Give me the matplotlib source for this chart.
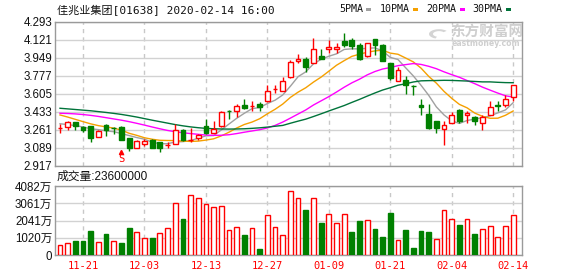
import matplotlib
matplotlib.use("Agg")
import matplotlib.pyplot as plt
from matplotlib.patches import Rectangle, Wedge
import numpy as np

# ---------------- data ----------------
dates = ["11-18", "11-19", "11-20", "11-21", "11-22", "11-25", "11-26", "11-27", "11-28", "11-29",
         "12-02", "12-03", "12-04", "12-05", "12-06", "12-09", "12-10", "12-11", "12-12", "12-13",
         "12-16", "12-17", "12-18", "12-19", "12-20", "12-23", "12-24", "12-27", "12-30", "12-31",
         "01-02", "01-03", "01-06", "01-07", "01-08", "01-09", "01-10", "01-13", "01-14", "01-15",
         "01-16", "01-17", "01-20", "01-21", "01-22", "01-23", "01-24", "01-29", "01-30", "01-31",
         "02-03", "02-04", "02-05", "02-06", "02-07", "02-10", "02-11", "02-12", "02-13", "02-14"]

opens = [3.272, 3.285, 3.336, 3.285, 3.292, 3.189, 3.304, 3.276, 3.285, 3.177,
         3.087, 3.125, 3.164, 3.139, 3.113, 3.125, 3.256, 3.158, 3.177, 3.292,
         3.225, 3.294, 3.441, 3.435, 3.498, 3.486, 3.505, 3.530, 3.645, 3.632,
         3.760, 3.913, 3.932, 3.899, 3.963, 4.033, 4.027, 4.110, 4.116, 4.065,
         3.963, 4.122, 4.065, 3.893, 3.727, 3.734, 3.680, 3.498, 3.409, 3.339,
         3.263, 3.326, 3.447, 3.397, 3.383, 3.326, 3.402, 3.495, 3.492, 3.568]
closes = [3.272, 3.330, 3.292, 3.253, 3.177, 3.246, 3.253, 3.272, 3.164, 3.081,
          3.151, 3.151, 3.087, 3.087, 3.113, 3.259, 3.156, 3.158, 3.209, 3.228,
          3.263, 3.428, 3.435, 3.486, 3.467, 3.486, 3.479, 3.626, 3.645, 3.721,
          3.906, 3.932, 3.855, 4.027, 3.938, 4.052, 4.046, 4.065, 4.059, 3.932,
          4.084, 4.065, 3.918, 3.753, 3.830, 3.683, 3.674, 3.473, 3.275, 3.275,
          3.301, 3.397, 3.345, 3.416, 3.339, 3.377, 3.479, 3.489, 3.555, 3.683]
highs = [3.311, 3.342, 3.336, 3.292, 3.292, 3.259, 3.311, 3.285, 3.298, 3.177,
         3.164, 3.170, 3.170, 3.145, 3.145, 3.311, 3.270, 3.280, 3.221, 3.362,
         3.339, 3.441, 3.447, 3.508, 3.552, 3.530, 3.524, 3.683, 3.683, 3.760,
         3.925, 3.982, 3.951, 4.135, 4.033, 4.116, 4.090, 4.180, 4.135, 4.090,
         4.090, 4.129, 4.078, 3.899, 3.855, 3.772, 3.689, 3.549, 3.505, 3.345,
         3.339, 3.428, 3.454, 3.441, 3.390, 3.402, 3.536, 3.530, 3.594, 3.689]
lows = [3.225, 3.259, 3.259, 3.234, 3.139, 3.189, 3.196, 3.221, 3.164, 3.056,
        3.087, 3.100, 3.081, 3.043, 3.081, 3.125, 3.150, 3.145, 3.164, 3.215,
        3.225, 3.282, 3.358, 3.383, 3.454, 3.441, 3.441, 3.524, 3.607, 3.626,
        3.753, 3.899, 3.810, 3.893, 3.932, 3.989, 3.989, 4.046, 4.033, 3.925,
        3.955, 3.976, 3.913, 3.734, 3.720, 3.600, 3.594, 3.402, 3.263, 3.225,
        3.116, 3.320, 3.320, 3.320, 3.307, 3.256, 3.397, 3.441, 3.479, 3.536]

ma5 = [3.316, 3.308, 3.298, 3.285, 3.268, 3.260, 3.248, 3.240, 3.222, 3.203,
       3.184, 3.168, 3.140, 3.125, 3.125, 3.142, 3.145, 3.155, 3.178, 3.200,
       3.203, 3.257, 3.313, 3.368, 3.416, 3.460, 3.471, 3.509, 3.541, 3.591,
       3.675, 3.766, 3.812, 3.888, 3.932, 3.961, 3.984, 4.026, 4.032, 4.031,
       4.037, 4.041, 4.012, 3.950, 3.930, 3.851, 3.773, 3.684, 3.588, 3.477,
       3.400, 3.344, 3.319, 3.347, 3.360, 3.375, 3.391, 3.420, 3.448, 3.517]
ma10 = [3.400, 3.380, 3.358, 3.336, 3.315, 3.298, 3.286, 3.274, 3.255, 3.225,
        3.205, 3.182, 3.168, 3.158, 3.156, 3.155, 3.150, 3.147, 3.150, 3.160,
        3.172, 3.200, 3.235, 3.275, 3.309, 3.332, 3.364, 3.411, 3.454, 3.504,
        3.568, 3.618, 3.660, 3.714, 3.762, 3.818, 3.875, 3.919, 3.960, 3.981,
        3.999, 4.012, 4.019, 3.991, 3.980, 3.944, 3.907, 3.848, 3.769, 3.704,
        3.625, 3.559, 3.501, 3.468, 3.418, 3.387, 3.368, 3.369, 3.397, 3.438]
ma20 = [3.416, 3.414, 3.410, 3.404, 3.396, 3.386, 3.374, 3.362, 3.350, 3.336,
        3.320, 3.303, 3.285, 3.268, 3.252, 3.240, 3.230, 3.222, 3.215, 3.208,
        3.205, 3.206, 3.211, 3.222, 3.235, 3.247, 3.259, 3.276, 3.300, 3.332,
        3.370, 3.409, 3.448, 3.495, 3.535, 3.575, 3.619, 3.665, 3.707, 3.742,
        3.783, 3.815, 3.839, 3.853, 3.871, 3.881, 3.891, 3.883, 3.865, 3.842,
        3.812, 3.785, 3.760, 3.729, 3.699, 3.666, 3.637, 3.609, 3.583, 3.571]
ma30 = [3.464, 3.458, 3.452, 3.446, 3.440, 3.432, 3.424, 3.415, 3.405, 3.393,
        3.380, 3.365, 3.350, 3.336, 3.322, 3.308, 3.296, 3.286, 3.278, 3.272,
        3.268, 3.266, 3.265, 3.266, 3.268, 3.272, 3.277, 3.284, 3.292, 3.300,
        3.321, 3.341, 3.360, 3.385, 3.411, 3.438, 3.464, 3.490, 3.520, 3.549,
        3.580, 3.610, 3.638, 3.660, 3.684, 3.698, 3.715, 3.726, 3.728, 3.729,
        3.731, 3.730, 3.727, 3.724, 3.720, 3.716, 3.716, 3.712, 3.709, 3.708]

# volume in 万 shares
volumes = [572, 690, 828, 828, 1420, 769, 1242, 828, 710, 1597,
           1361, 986, 1006, 1302, 1578, 3057, 2130, 3530, 3352, 2997,
           2820, 2879, 1459, 1637, 1183, 1578, 355, 2366, 1637, 1163,
           3786, 3352, 2662, 3352, 1893, 2426, 1893, 2426, 1361, 2011,
           2051, 1538, 1065, 2485, 887, 1479, 414, 1420, 1361, 947,
           2642, 2110, 1775, 2110, 1242, 1538, 1696, 1045, 1696, 2360]
vol_dir = ["R", "R", "G", "G", "G", "R", "G", "R", "G", "G",
           "R", "R", "G", "R", "R", "R", "G", "R", "R", "R",
           "R", "R", "R", "R", "G", "R", "G", "R", "R", "R",
           "R", "R", "G", "R", "G", "R", "R", "R", "G", "G",
           "R", "G", "G", "G", "R", "G", "G", "G", "G", "R",
           "R", "R", "G", "R", "G", "R", "R", "R", "R", "R"]

price_ticks = [4.293, 4.121, 3.949, 3.777, 3.605, 3.433, 3.261, 3.089, 2.917]
price_tick_labels = ["4.293", "4.121", "3.949", "3.777", "3.605", "3.433", "3.261", "3.089", "2.917"]
vol_ticks = [0, 1020.5, 2041, 3061.5, 4082]
vol_tick_labels = ["0", "1020万", "2041万", "3061万", "4082万"]
xtick_dates = ["11-21", "12-03", "12-13", "12-27", "01-09", "01-21", "02-04", "02-14"]

title = "佳兆业集团[01638] 2020-02-14 16:00"
vol_title = "成交量:23600000"
ma_names = ["5PMA", "10PMA", "20PMA", "30PMA"]
signal_index = 8

# ---------------- style ----------------
W, H = 578, 276
RED = "#ff0000"
GREEN = "#008000"
MA_COLORS = ["#a0a0a0", "#f5a000", "#ff00ff", "#00733a"]
GRID = "#d2d2d2"
SPINE = "#9a9a9a"
MONO = ["DejaVu Sans Mono", "Noto Sans CJK SC"]
SANS = ["Liberation Sans", "Noto Sans CJK SC"]


def fx(px):
    return px / W


def fy(py):
    return 1 - py / H


fig = plt.figure(figsize=(W / 100, H / 100), dpi=100)
fig.patch.set_facecolor("white")

left, right = 55, 522
ax = fig.add_axes([fx(left), fy(165.5), fx(right - left), (165.5 - 21.5) / H])
axv = fig.add_axes([fx(left), fy(255), fx(right - left), (255 - 186) / H])

x = np.arange(len(dates))
o = np.array(opens)
c = np.array(closes)
up = c >= o
xlim = (-0.65, 60.15)

# candles
wick_colors = [RED if u else GREEN for u in up]
ax.vlines(x, lows, highs, colors=wick_colors, lw=1, zorder=3)
body_bottom = np.minimum(o, c)
body_h = np.maximum(np.abs(c - o), 0.0008)
ax.bar(x, body_h, bottom=body_bottom, width=0.62,
       facecolor=["white" if u else GREEN for u in up],
       edgecolor=wick_colors, lw=1, zorder=4)

# moving averages
for vals, col in zip([ma5, ma10, ma20, ma30], MA_COLORS):
    ax.plot(x, vals, color=col, lw=1, zorder=2)

ax.set_xlim(*xlim)
ax.set_ylim(2.917, 4.293)
ax.set_yticks(price_ticks)
ax.set_yticklabels(price_tick_labels, family=SANS, fontsize=8.3, color="#111111")
xt = [dates.index(d) for d in xtick_dates]
ax.set_xticks(xt)
ax.set_xticklabels([])
ax.tick_params(length=0, pad=2)
ax.yaxis.grid(True, color=GRID, lw=1)
ax.xaxis.grid(True, color="#c8c8c8", lw=1, ls=(0, (3, 3)))
ax.set_axisbelow(True)
for s in ax.spines.values():
    s.set_color(SPINE)
    s.set_linewidth(1)

# signal marker (triangle above an "S")
ax.annotate("S", xy=(signal_index, 2.917), xycoords="data",
            xytext=(0, 1), textcoords="offset points",
            ha="center", va="bottom", color=RED, fontsize=7.5, family="DejaVu Sans Mono", zorder=6)
ax.plot([signal_index], [3.046], marker="^", color=RED, ms=3, zorder=6, lw=0)

# volume
vol_face = ["white" if d == "R" else GREEN for d in vol_dir]
vol_edge = [RED if d == "R" else GREEN for d in vol_dir]
axv.bar(x, volumes, width=0.62, facecolor=vol_face, edgecolor=vol_edge, lw=1, zorder=3)
axv.set_xlim(*xlim)
axv.set_ylim(0, 4082)
axv.set_yticks(vol_ticks)
axv.set_yticklabels(vol_tick_labels, family=SANS, fontsize=8.3, color="#111111")
axv.set_xticks(xt)
axv.set_xticklabels(xtick_dates, family="DejaVu Sans Mono", fontsize=7.5, color=RED)
axv.tick_params(length=0, pad=2)
axv.tick_params(axis="x", pad=4)
axv.yaxis.grid(True, color=GRID, lw=1)
axv.xaxis.grid(True, color="#c8c8c8", lw=1, ls=(0, (3, 3)))
axv.set_axisbelow(True)
for s in axv.spines.values():
    s.set_color(SPINE)
    s.set_linewidth(1)

# titles
fig.text(fx(57), fy(10.5), title, family=MONO, fontsize=8, color="#111111", va="center", ha="left")
fig.text(fx(57), fy(177), vol_title, family=SANS, fontsize=8.5, color="#111111", va="center", ha="left")

# legend
leg_text_x = [339, 380, 426, 472]
leg_sq_x = [366, 413, 460, 506]
for name, tx, sx, col in zip(ma_names, leg_text_x, leg_sq_x, MA_COLORS):
    fig.text(fx(tx), fy(9.5), name, family="DejaVu Sans Mono", fontsize=7.2, color="#111111",
             va="center", ha="left")
    fig.patches.append(Rectangle((fx(sx), fy(11)), fx(5), 3.5 / H, transform=fig.transFigure,
                                 facecolor=col, edgecolor="none"))

# watermark
fig.text(fx(487), fy(32), "东方财富网", family=["Noto Sans CJK SC"], fontweight="bold",
         fontsize=10.5, color="#cfcfcf", ha="center", va="center")
fig.text(fx(486), fy(43.5), "eastmoney.com", family=["DejaVu Sans"], fontweight="bold",
         fontsize=5.6, color="#cfcfcf", ha="center", va="center")
fig.patches.append(Wedge((fx(439), fy(34)), 10 / W, 40, 250, width=4 / W,
                         transform=fig.transFigure, facecolor="#d4d4d4", edgecolor="none"))

fig.savefig("out.png", dpi=100, facecolor="white")
